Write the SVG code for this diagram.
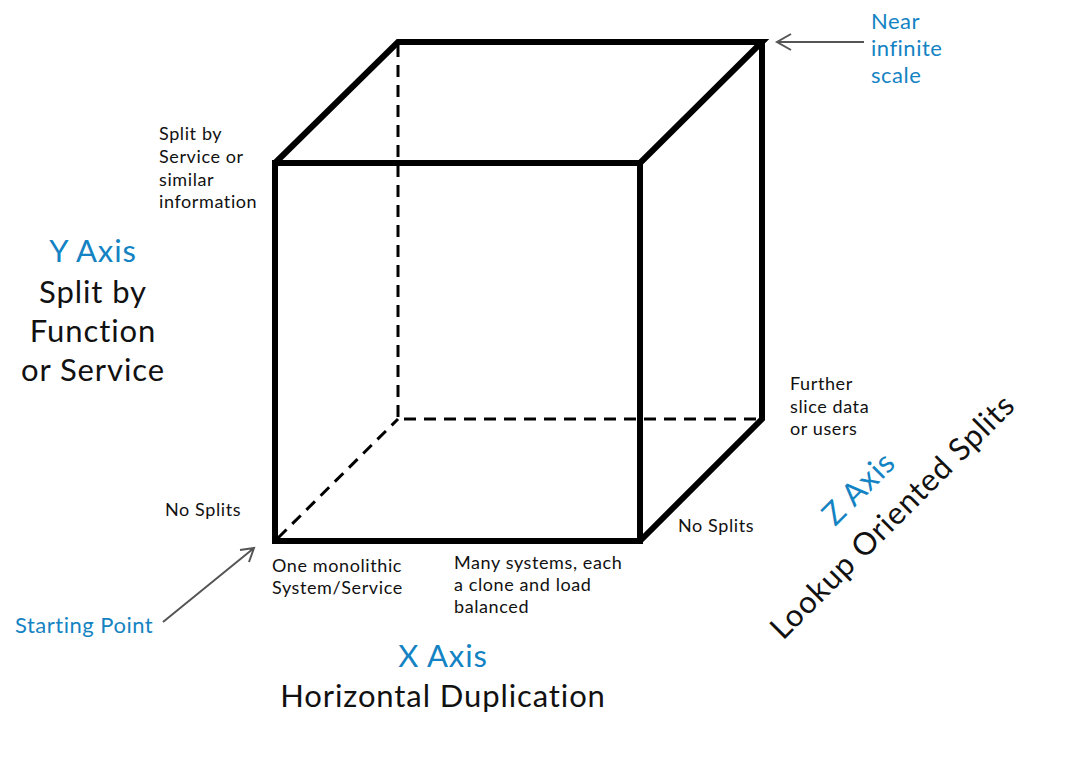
<svg xmlns="http://www.w3.org/2000/svg" width="1087" height="766" viewBox="0 0 1087 766">
<style>
text{font-family:Lato,"Liberation Sans",sans-serif;fill:#111}
.sm{font-size:18px;letter-spacing:0.6px}
.md{font-size:22px;letter-spacing:0.5px}
.lg{font-size:31px;letter-spacing:0.9px}
.blue{fill:#1483c3}
.solid{fill:none;stroke:#000;stroke-width:6;stroke-linejoin:miter}
.dash{fill:none;stroke:#000;stroke-width:3;stroke-dasharray:12 8}
.arrow{fill:none;stroke:#555;stroke-width:2}
</style>
<rect width="1087" height="766" fill="#fff"/>
<g id="cube">
<path class="dash" d="M398 45V419H760M278 538L398 419"/>
<path class="solid" d="M275 163H640V541H275Z"/>
<path class="solid" d="M275 163L398 42H762L640 163M762 42V419L640 541"/>
</g>
<g id="connectors">
<path class="arrow" d="M864 42H777M791 34L777 42L791 50"/>
<path class="arrow" d="M163 622L254 548M240 550L254 548L249 562"/>
</g>
<g id="near-infinite">
<text class="md blue" x="871" y="29">Near</text>
<text class="md blue" x="871" y="56">infinite</text>
<text class="md blue" x="871" y="83">scale</text>
</g>
<g id="split-service">
<text class="sm" x="159" y="140">Split by</text>
<text class="sm" x="159" y="163">Service or</text>
<text class="sm" x="159" y="186">similar</text>
<text class="sm" x="159" y="208">information</text>
</g>
<g id="y-axis" text-anchor="middle">
<text class="lg blue" x="93" y="262">Y Axis</text>
<text class="lg" x="93" y="303">Split by</text>
<text class="lg" x="93" y="342">Function</text>
<text class="lg" x="93" y="381">or Service</text>
</g>
<g id="no-splits-left"><text class="sm" x="165" y="516">No Splits</text></g>
<g id="starting-point"><text class="md blue" x="15" y="633">Starting Point</text></g>
<g id="monolithic">
<text class="sm" x="272" y="572">One monolithic</text>
<text class="sm" x="272" y="594">System/Service</text>
</g>
<g id="many-systems">
<text class="sm" x="454" y="569">Many systems, each</text>
<text class="sm" x="454" y="591">a clone and load</text>
<text class="sm" x="454" y="613">balanced</text>
</g>
<g id="x-axis" text-anchor="middle">
<text class="lg blue" x="443" y="667">X Axis</text>
<text class="lg" x="443" y="707">Horizontal Duplication</text>
</g>
<g id="no-splits-right"><text class="sm" x="678" y="532">No Splits</text></g>
<g id="further-slice">
<text class="sm" x="790" y="390">Further</text>
<text class="sm" x="790" y="413">slice data</text>
<text class="sm" x="790" y="435">or users</text>
</g>
<g id="z-axis">
<text class="lg blue" transform="translate(835,527) rotate(-45)">Z Axis</text>
<text class="lg" transform="translate(783,641) rotate(-45)">Lookup Oriented Splits</text>
</g>
</svg>
